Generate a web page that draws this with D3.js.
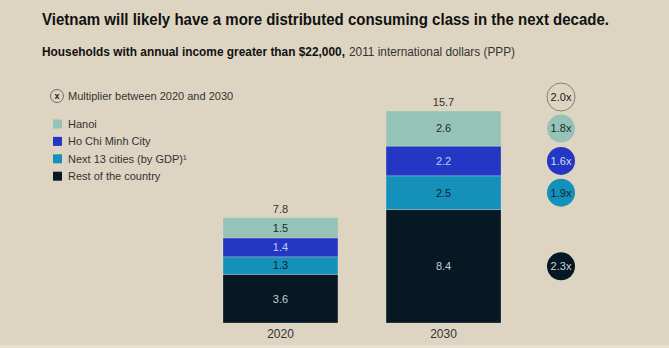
<!DOCTYPE html>
<html>
<head>
<meta charset="utf-8">
<script src="https://cdn.jsdelivr.net/npm/d3@7"></script>
<style>
  html, body { margin: 0; padding: 0; background: #ddd5c1; }
  svg { display: block; }
  text { font-family: "Liberation Sans", Arial, sans-serif; }
</style>
</head>
<body>
<svg id="chart" width="669" height="348"></svg>
<script>
// Households with annual income > $22,000 (millions), by region
const years = ["2020", "2030"];
const regions = ["Rest of the country", "Next 13 cities (by GDP)\u00b9", "Ho Chi Minh City", "Hanoi"];
const rest = [3.6, 8.4];
const next13 = [1.3, 2.5];
const hcmc = [1.4, 2.2];
const hanoi = [1.5, 2.6];
const totals = [7.8, 15.7];
const multipliers = ["2.3x", "1.9x", "1.6x", "1.8x"];
const totalMultiplier = "2.0x";

const colors = ["#051823", "#1590bb", "#2337c4", "#96c3b7"];
const labelColors = ["#c9cccd", "#0b2634", "#c5cbee", "#1c2a28"];
const multTextColors = ["#d2d4d5", "#0b2634", "#d7dcf5", "#1c2a28"];

const svg = d3.select("#chart");
const W = 669, H = 348;

svg.append("rect").attr("width", W).attr("height", H).attr("fill", "#ddd5c1");
svg.append("rect").attr("x", 0).attr("y", H - 3).attr("width", W).attr("height", 3).attr("fill", "#e6dfce");

// Headings
svg.append("text").attr("x", 42).attr("y", 25)
  .attr("font-size", 16.5).attr("font-weight", "bold").attr("fill", "#111")
  .attr("textLength", 567).attr("lengthAdjust", "spacingAndGlyphs")
  .text("Vietnam will likely have a more distributed consuming class in the next decade.");

const sub = svg.append("text").attr("x", 42).attr("y", 56).attr("font-size", 12.5).attr("fill", "#111");
sub.append("tspan").attr("font-weight", "bold").attr("textLength", 303).attr("lengthAdjust", "spacingAndGlyphs")
  .text("Households with annual income greater than $22,000,");
sub.append("tspan").attr("fill", "#333").attr("dx", 4).attr("textLength", 166).attr("lengthAdjust", "spacingAndGlyphs")
  .text("2011 international dollars (PPP)");

// Stack the series
const table = years.map((y, i) => ({ year: y, s0: rest[i], s1: next13[i], s2: hcmc[i], s3: hanoi[i] }));
const keys = ["s0", "s1", "s2", "s3"];
const stacked = d3.stack().keys(keys)(table);

const x = d3.scaleBand().domain(years).range([223, 501]).paddingInner(0.295).paddingOuter(0);
const y = d3.scaleLinear().domain([0, d3.max(totals)]).range([323, 111]);

const g = svg.append("g");
stacked.forEach((layer, li) => {
  g.selectAll(null).data(layer).join("rect")
    .attr("x", d => x(d.data.year))
    .attr("width", x.bandwidth())
    .attr("y", d => y(d[1]))
    .attr("height", d => y(d[0]) - y(d[1]))
    .attr("fill", colors[li])
    .attr("stroke", "#e8e2d3").attr("stroke-opacity", 0.35).attr("stroke-width", 0.8);
  g.selectAll(null).data(layer).join("text")
    .attr("x", d => x(d.data.year) + x.bandwidth() / 2)
    .attr("y", d => (y(d[0]) + y(d[1])) / 2)
    .attr("dy", "0.35em").attr("text-anchor", "middle")
    .attr("font-size", 11).attr("fill", labelColors[li])
    .text(d => (d[1] - d[0]).toFixed(1));
});

// Totals above bars
g.selectAll(null).data(years).join("text")
  .attr("x", d => x(d) + x.bandwidth() / 2)
  .attr("y", (d, i) => y(totals[i]) - 5)
  .attr("text-anchor", "middle").attr("font-size", 11).attr("fill", "#333")
  .text((d, i) => totals[i].toFixed(1));

// Year axis
const axis = svg.append("g").attr("transform", "translate(0,323)")
  .call(d3.axisBottom(x).tickSize(0).tickPadding(6));
axis.select(".domain").remove();
axis.selectAll("text").attr("font-size", 12).attr("fill", "#333")
  .attr("font-family", "Liberation Sans, Arial, sans-serif");

// Multiplier bubbles aligned with 2030 segments
const cx = 561, r = 14;
const last = years.length - 1;
stacked.forEach((layer, li) => {
  const d = layer[last];
  const cy = (y(d[0]) + y(d[1])) / 2;
  svg.append("circle").attr("cx", cx).attr("cy", cy).attr("r", r).attr("fill", colors[li]);
  svg.append("text").attr("x", cx).attr("y", cy).attr("dy", "0.35em").attr("text-anchor", "middle")
    .attr("font-size", 11).attr("fill", multTextColors[li]).text(multipliers[li]);
});
const totY = y(totals[last]) - 14;
svg.append("circle").attr("cx", cx).attr("cy", totY).attr("r", r)
  .attr("fill", "none").attr("stroke", "#7d7566").attr("stroke-width", 0.9);
svg.append("text").attr("x", cx).attr("y", totY).attr("dy", "0.35em").attr("text-anchor", "middle")
  .attr("font-size", 11).attr("fill", "#1a1a1a").text(totalMultiplier);

// Legend
const lg = svg.append("g");
lg.append("circle").attr("cx", 57).attr("cy", 96).attr("r", 6.5)
  .attr("fill", "none").attr("stroke", "#555").attr("stroke-width", 0.8);
lg.append("text").attr("x", 57).attr("y", 96).attr("dy", "0.35em").attr("text-anchor", "middle")
  .attr("font-size", 9).attr("font-weight", "bold").attr("fill", "#222").text("x");
lg.append("text").attr("x", 68).attr("y", 96).attr("dy", "0.35em")
  .attr("font-size", 11).attr("fill", "#333").text("Multiplier between 2020 and 2030");

const legendOrder = [3, 2, 1, 0];
legendOrder.forEach((li, k) => {
  const ly = 124 + k * 17.4;
  lg.append("rect").attr("x", 53).attr("y", ly - 4.5).attr("width", 9).attr("height", 9).attr("fill", colors[li]);
  lg.append("text").attr("x", 68).attr("y", ly).attr("dy", "0.35em")
    .attr("font-size", 11).attr("fill", "#333").text(regions[li]);
});
</script>
</body>
</html>
